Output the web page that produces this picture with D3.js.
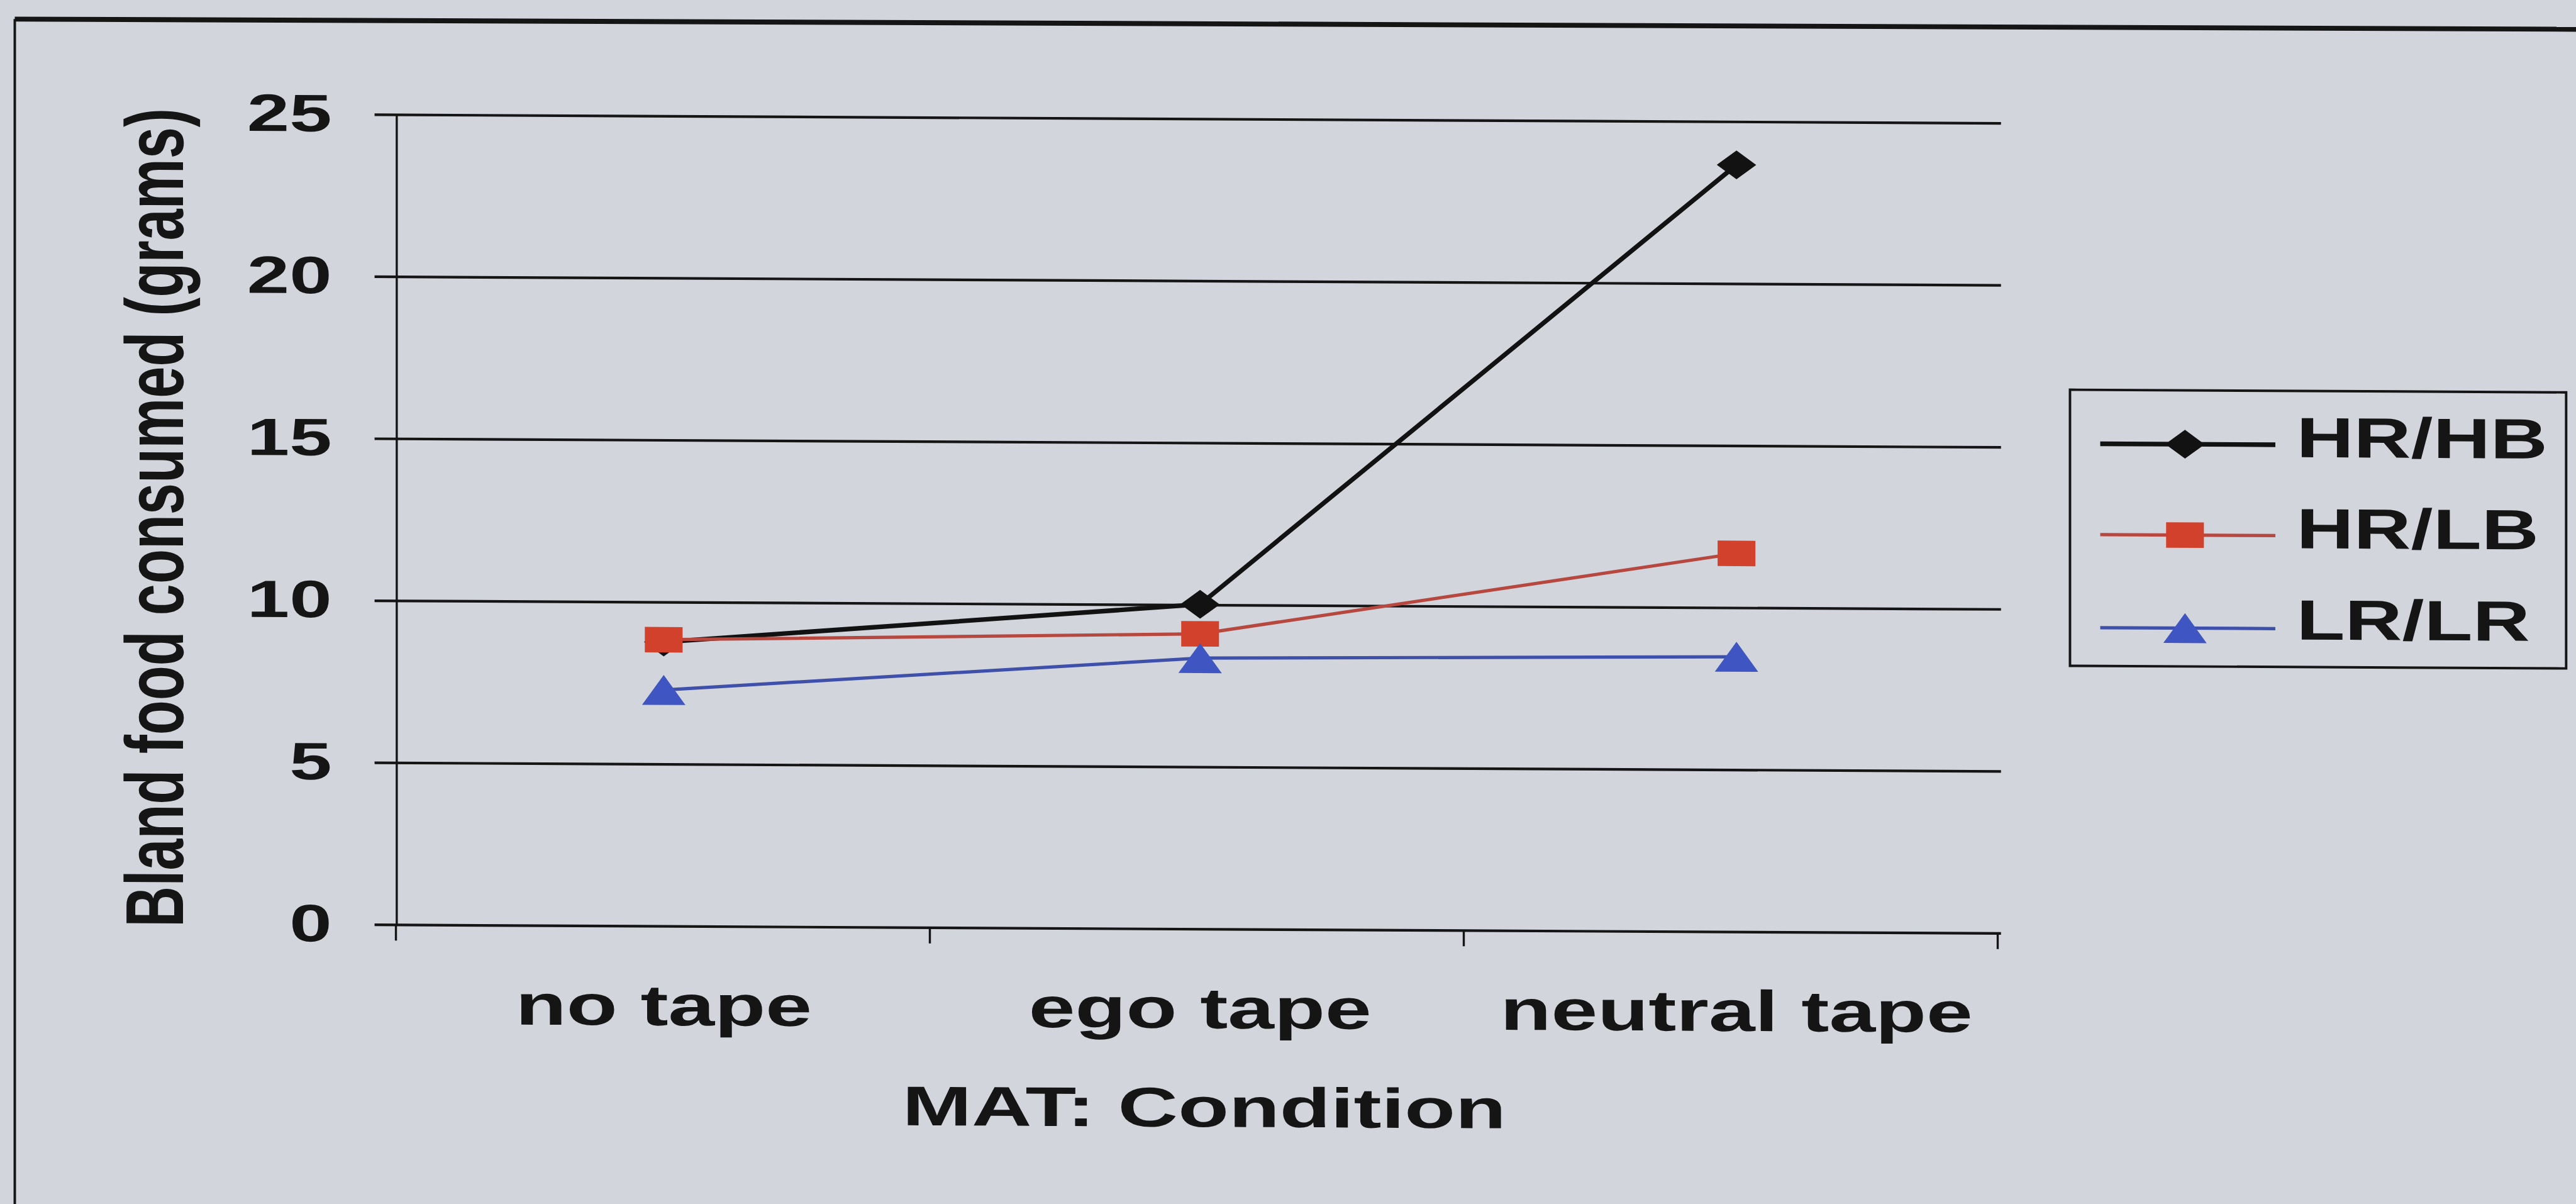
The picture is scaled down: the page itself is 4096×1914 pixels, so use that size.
<!DOCTYPE html>
<html>
<head>
<meta charset="utf-8">
<script src="https://cdn.jsdelivr.net/npm/d3@7"></script>
<style>
  html, body { margin: 0; padding: 0; background: #d3d5dc; overflow: hidden; }
  svg { display: block; }
</style>
</head>
<body>
<svg id="chart" width="4096" height="1914" viewBox="0 0 1568 732.7" preserveAspectRatio="none"></svg>
<script>
// ---- data ----
const categories = ["no tape", "ego tape", "neutral tape"];
const seriesNames = ["HR/HB", "HR/LB", "LR/LR"];
const hrhb = [8.75, 10.0, 23.65];
const hrlb = [8.82, 9.09, 11.66];
const lrlr = [7.27, 8.34, 8.47];
const yTicks = [0, 5, 10, 15, 20, 25];
const xTitle = "MAT: Condition";
const yTitle = "Bland food consumed (grams)";

// ---- styling ----
const bg = "#d3d5dc";
const ink = "#151515";
const font = "Arial, 'Liberation Sans', Helvetica, sans-serif";
const stretch = 1.45;               // wide lettering of the printed figure
const shear = 0.0053;               // slight slant of the whole figure

const series = [
  { name: seriesNames[0], values: hrhb, line: "#121212", fill: "#121212", width: 2.8, shape: "diamond", w: 24, h: 17.5 },
  { name: seriesNames[1], values: hrlb, line: "#b6483f", fill: "#d2412c", width: 2.0, shape: "square",  w: 23, h: 15.5 },
  { name: seriesNames[2], values: lrlr, line: "#3f50ab", fill: "#3e55c2", width: 2.0, shape: "triangle", w: 26.4, h: 18.2 }
];

const W = 1568, H = 732.7;
const plot = { left: 241, right: 1216, top: 68.1, bottom: 561.1, gridLeft: 228, gridRight: 1218 };

const svg = d3.select("#chart");
svg.append("rect").attr("width", W).attr("height", H).attr("fill", bg);

// page frame (top and left edges)
svg.append("line").attr("x1", 9).attr("y1", 11.6).attr("x2", W).attr("y2", 17.8)
  .attr("stroke", ink).attr("stroke-width", 3);
svg.append("line").attr("x1", 9).attr("y1", 11.6).attr("x2", 9).attr("y2", H)
  .attr("stroke", ink).attr("stroke-width", 1.5);

const g = svg.append("g").attr("transform", `matrix(1,${shear},0,1,0,0)`);

// ---- scales ----
// category bands carry the tick marks; the points sit on their own positions
const xBand = d3.scaleBand().domain(categories).range([plot.left, plot.right]).padding(0);
const x = d3.scalePoint().domain(categories).range([404, 1057]);
const y = d3.scaleLinear().domain([0, 25]).range([plot.bottom, plot.top]);

function wideText(sel, tx, ty, size, anchor, sx) {
  return sel.attr("transform", `translate(${tx},${ty}) scale(${sx || stretch},1)`)
    .attr("font-family", font).attr("font-weight", "bold")
    .attr("font-size", size).attr("text-anchor", anchor).attr("fill", ink);
}

// ---- y axis with horizontal gridlines ----
const yAxis = d3.axisLeft(y).tickValues(yTicks)
  .tickSizeInner(-(plot.gridRight - plot.left)).tickSizeOuter(0).tickFormat(d3.format("d"));
const yg = g.append("g").attr("transform", `translate(${plot.left},0)`).call(yAxis);
yg.select(".domain").attr("stroke", ink).attr("stroke-width", 1.3);
yg.selectAll(".tick line")
  .attr("x1", plot.gridLeft - plot.left)
  .attr("stroke", ink).attr("stroke-width", 1.6);
yg.selectAll(".tick text").each(function(d) {
  wideText(d3.select(this), 202 - plot.left, 0, 32, "end")
    .attr("x", 0).attr("dy", "0.32em");
});

// ---- x axis ----
const xAxis = d3.axisBottom(xBand).tickSize(0).tickFormat("");
const xg = g.append("g").attr("transform", `translate(0,${plot.bottom})`).call(xAxis);
xg.select(".domain").remove();
const bounds = categories.map(c => xBand(c)).concat([xBand(categories[categories.length - 1]) + xBand.bandwidth()]);
xg.selectAll(".bound").data(bounds).join("line").attr("class", "bound")
  .attr("x1", d => d).attr("x2", d => d).attr("y1", 0).attr("y2", 10)
  .attr("stroke", ink).attr("stroke-width", 1.3);

g.selectAll(".xlab").data(categories).join("text").attr("class", "xlab")
  .each(function(c) { wideText(d3.select(this), x(c), 621.8, 35, "middle"); })
  .text(c => c);

// ---- axis titles ----
wideText(g.append("text"), 733, 681.8, 34, "middle", 1.49).text(xTitle);
g.append("text")
  .attr("transform", `translate(111.5,314.5) scale(${stretch},1) rotate(-90)`)
  .attr("font-family", font).attr("font-weight", "bold").attr("font-size", 34.5)
  .attr("text-anchor", "middle").attr("fill", ink).text(yTitle);

// ---- markers ----
function markerPath(shape, w, h) {
  const a = w / 2, b = h / 2;
  if (shape === "diamond") return `M0,${-b}L${a},0L0,${b}L${-a},0Z`;
  if (shape === "square") return `M${-a},${-b}H${a}V${b}H${-a}Z`;
  return `M0,${-b}L${a},${b}L${-a},${b}Z`;
}

// ---- series ----
const line = d3.line().x((d, i) => x(categories[i])).y(d => y(d));
series.forEach(s => {
  const sg = g.append("g");
  sg.append("path").datum(s.values).attr("d", line)
    .attr("fill", "none").attr("stroke", s.line).attr("stroke-width", s.width)
    .attr("stroke-linejoin", "round");
  sg.selectAll("path.mk").data(s.values).join("path").attr("class", "mk")
    .attr("d", markerPath(s.shape, s.w, s.h))
    .attr("transform", (d, i) => `translate(${x(categories[i])},${y(d)})`)
    .attr("fill", s.fill);
});

// ---- legend ----
const lg = g.append("g");
lg.append("rect").attr("x", 1260).attr("y", 230.5).attr("width", 302).attr("height", 168)
  .attr("fill", "none").attr("stroke", ink).attr("stroke-width", 1.5);
const rowsLine = [263.3, 318.6, 375.2];
const rowsText = [270.8, 326.2, 381.8];
series.forEach((s, i) => {
  lg.append("line").attr("x1", 1278.4).attr("x2", 1385).attr("y1", rowsLine[i]).attr("y2", rowsLine[i])
    .attr("stroke", s.line).attr("stroke-width", s.width);
  lg.append("path").attr("d", markerPath(s.shape, s.w, s.h))
    .attr("transform", `translate(1330,${rowsLine[i]})`).attr("fill", s.fill);
  wideText(lg.append("text"), 1397.8, rowsText[i], 34.5, "start", 1.4).text(s.name);
});
</script>
</body>
</html>
